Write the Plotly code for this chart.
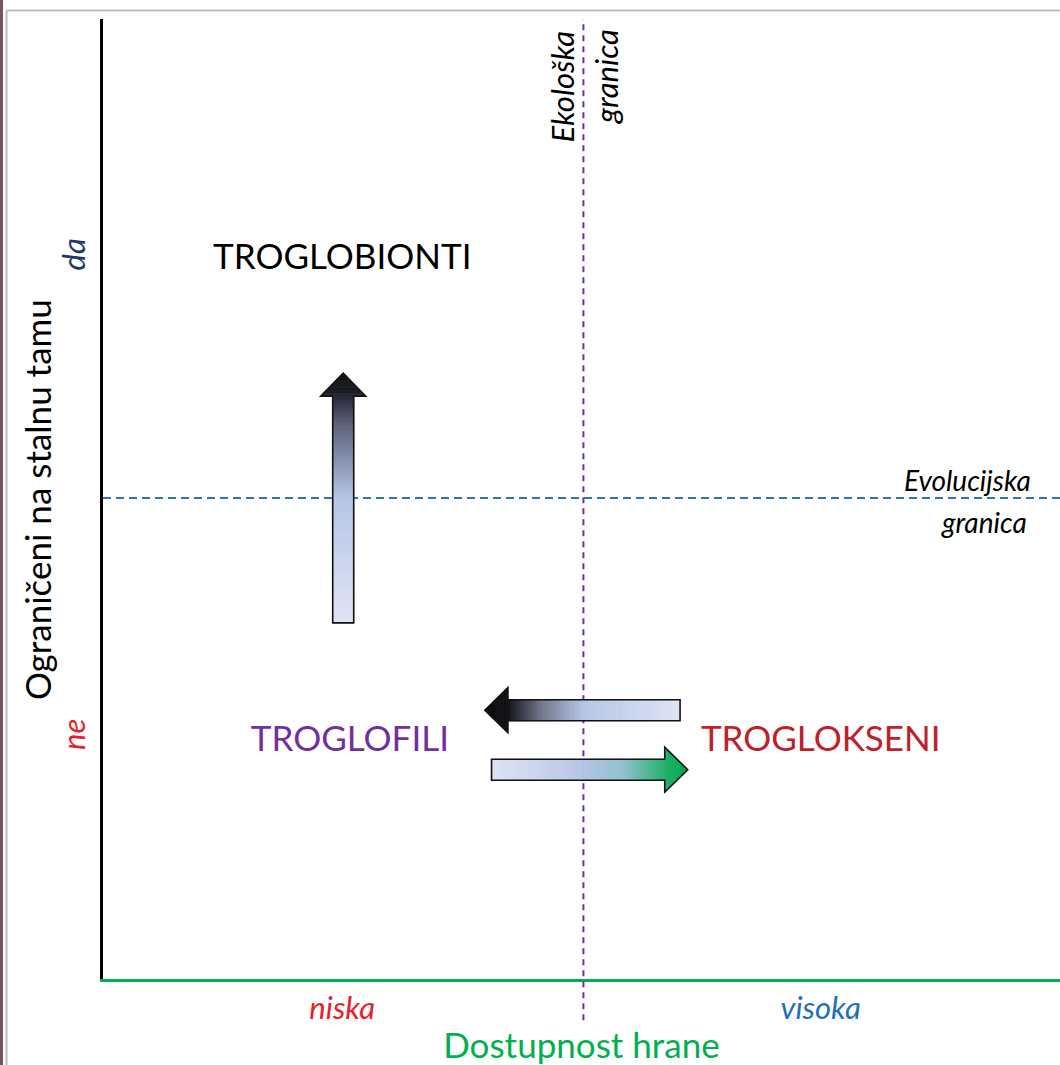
import plotly.graph_objects as go

# ---------------- data ----------------
group_names = ["TROGLOBIONTI", "TROGLOFILI", "TROGLOKSENI"]
group_x = [25.0, 25.8, 75.0]
group_y = [74.9, 24.7, 24.7]
group_colors = ["#000000", "#7030A0", "#C0202A"]

x_tick_vals = [25, 75]
x_tick_text = ["niska", "visoka"]
x_tick_colors = ["#E8202A", "#1F6FBA"]
y_tick_vals = [25, 75]
y_tick_text = ["ne", "da"]
y_tick_colors = ["#E8202A", "#203864"]

x_title = "Dostupnost hrane"
y_title = "Ograničeni na stalnu tamu"

eco_boundary_x = 50.2      # Ekološka granica
evo_boundary_y = 50.1      # Evolucijska granica

# arrows (start -> tip)
arrow_start_x = [25.1, 60.3, 40.6]
arrow_start_y = [37.1, 28.0, 21.8]
arrow_end_x = [25.1, 39.9, 61.1]
arrow_end_y = [63.1, 28.0, 21.8]
arrow_gradients = [
    [(0.0, "#DFE4F4"), (0.5, "#B4C6E7"), (0.8, "#5A607A"), (0.93, "#1C1C26"), (1.0, "#111111")],
    [(0.0, "#DFE4F4"), (0.5, "#B4C6E7"), (0.72, "#6E7388"), (0.88, "#141418"), (1.0, "#0A0A0A")],
    [(0.0, "#DFE4F4"), (0.45, "#B8C6E6"), (0.68, "#8EC0CC"), (0.9, "#1CB066"), (1.0, "#00AA50")],
]

# ---------------- layout geometry ----------------
W, H = 1060, 1065
ML, MR, MT, MB = 103, 0, 19, 86
PPX = (W - ML - MR) / 100.0
PPY = (H - MT - MB) / 100.0

SHAFT_HALF = 10.5   # px
HEAD_HALF = 22.5    # px
HEAD_LEN = 23.0     # px


def hex2rgb(h):
    h = h.lstrip("#")
    return tuple(int(h[i:i + 2], 16) for i in (0, 2, 4))


def grad_color(stops, t):
    for (t0, c0), (t1, c1) in zip(stops[:-1], stops[1:]):
        if t0 <= t <= t1:
            f = 0 if t1 == t0 else (t - t0) / (t1 - t0)
            a, b = hex2rgb(c0), hex2rgb(c1)
            return "rgb(%d,%d,%d)" % tuple(round(a[i] + (b[i] - a[i]) * f) for i in range(3))
    return stops[-1][1]


def arrow_shapes(x0, y0, x1, y1, stops):
    px0, py0, px1, py1 = x0 * PPX, y0 * PPY, x1 * PPX, y1 * PPY
    dx, dy = px1 - px0, py1 - py0
    L = (dx * dx + dy * dy) ** 0.5
    ux, uy = dx / L, dy / L
    nx, ny = -uy, ux
    base = L - HEAD_LEN

    def pt(s, w):
        return ((px0 + ux * s + nx * w) / PPX, (py0 + uy * s + ny * w) / PPY)

    def path(points):
        return "M " + " L ".join("%.4f,%.4f" % p for p in points) + " Z"

    shapes = []
    n_shaft, n_head = 70, 16
    segs = [(base * i / n_shaft, base * (i + 1) / n_shaft, "shaft") for i in range(n_shaft)]
    segs += [(base + HEAD_LEN * i / n_head, base + HEAD_LEN * (i + 1) / n_head, "head") for i in range(n_head)]
    for s0, s1, kind in segs:
        if kind == "shaft":
            w0 = w1 = SHAFT_HALF
        else:
            w0 = HEAD_HALF * (L - s0) / HEAD_LEN
            w1 = HEAD_HALF * (L - s1) / HEAD_LEN
        col = grad_color(stops, (s0 + s1) / 2 / L)
        pts = [pt(s0, -w0), pt(s1, -w1), pt(s1, w1), pt(s0, w0)]
        shapes.append(dict(type="path", xref="x", yref="y", path=path(pts),
                           fillcolor=col, line=dict(color=col, width=0.8), layer="above"))
    outline = [pt(0, -SHAFT_HALF), pt(base, -SHAFT_HALF), pt(base, -HEAD_HALF), pt(L, 0),
               pt(base, HEAD_HALF), pt(base, SHAFT_HALF), pt(0, SHAFT_HALF)]
    shapes.append(dict(type="path", xref="x", yref="y", path=path(outline),
                       fillcolor="rgba(0,0,0,0)", line=dict(color="#111111", width=1.6), layer="above"))
    return shapes


FONT = "Lato, 'Open Sans', sans-serif"

fig = go.Figure()

fig.add_trace(go.Scatter(
    x=group_x, y=group_y, mode="text", text=group_names,
    textfont=dict(family=FONT, size=35, color=group_colors),
    hoverinfo="skip", showlegend=False, cliponaxis=False,
))

shapes = []
shapes.append(dict(type="line", xref="x", yref="paper", x0=eco_boundary_x, x1=eco_boundary_x,
                   y0=-0.043, y1=1.0, line=dict(color="#7030A0", width=2, dash="6px,5px"), layer="above"))
shapes.append(dict(type="line", xref="x", yref="y", x0=0, x1=100,
                   y0=evo_boundary_y, y1=evo_boundary_y,
                   line=dict(color="#2E75B6", width=2, dash="8px,5px"), layer="above"))
for i in range(len(arrow_start_x)):
    shapes += arrow_shapes(arrow_start_x[i], arrow_start_y[i], arrow_end_x[i], arrow_end_y[i],
                           arrow_gradients[i])

# slide frame
fx = lambda p: (p - ML) / (W - ML - MR)
fy = lambda p: 1 - (p - MT) / (H - MT - MB)
shapes.append(dict(type="rect", xref="paper", yref="paper", x0=fx(0), x1=fx(3), y0=fy(H), y1=fy(0),
                   fillcolor="#7F5060", line=dict(width=0), layer="above"))
shapes.append(dict(type="line", xref="paper", yref="paper", x0=fx(6.5), x1=fx(6.5), y0=fy(H), y1=fy(10.5),
                   line=dict(color="#BDBDBD", width=2), layer="above"))
shapes.append(dict(type="line", xref="paper", yref="paper", x0=fx(6.5), x1=fx(W), y0=fy(10.5), y1=fy(10.5),
                   line=dict(color="#BDBDBD", width=2), layer="above"))

annotations = [
    dict(x=48.0, y=93.0, xref="x", yref="y", text="<i>Ekološka</i>", textangle=-90, showarrow=False,
         font=dict(family=FONT, size=31, color="#000000")),
    dict(x=52.5, y=94.0, xref="x", yref="y", text="<i>granica</i>", textangle=-90, showarrow=False,
         font=dict(family=FONT, size=31, color="#000000")),
    dict(x=97.2, y=52.0, xref="x", yref="y", text="<i>Evolucijska</i>", xanchor="right", showarrow=False,
         font=dict(family=FONT, size=28, color="#000000")),
    dict(x=96.8, y=47.6, xref="x", yref="y", text="<i>granica</i>", xanchor="right", showarrow=False,
         font=dict(family=FONT, size=28, color="#000000")),
    # y-axis title
    dict(x=fx(37), y=fy(500), xref="paper", yref="paper", text=y_title, textangle=-90, showarrow=False,
         xanchor="center", yanchor="middle", font=dict(family=FONT, size=35, color="#000000")),
]

fig.update_layout(
    width=W, height=H,
    margin=dict(l=ML, r=MR, t=MT, b=MB),
    paper_bgcolor="white", plot_bgcolor="white",
    shapes=shapes, annotations=annotations,
    xaxis=dict(range=[0, 100], showgrid=False, zeroline=False, showline=True,
               linecolor="#00B050", linewidth=3, ticks="",
               tickvals=x_tick_vals,
               ticktext=['<span style="color:%s"><i>%s</i></span>' % (c, t) for t, c in zip(x_tick_text, x_tick_colors)],
               tickfont=dict(family=FONT, size=31),
               title=dict(text=x_title, font=dict(family=FONT, size=35, color="#00B050"), standoff=10)),
    yaxis=dict(range=[0, 100], showgrid=False, zeroline=False, showline=True,
               linecolor="#000000", linewidth=3, ticks="",
               tickvals=y_tick_vals, tickangle=-90, ticklabelstandoff=3,
               ticktext=['<span style="color:%s"><i>%s</i></span>' % (c, t) for t, c in zip(y_tick_text, y_tick_colors)],
               tickfont=dict(family=FONT, size=31)),
)

fig.write_html("out.html", config={"displayModeBar": False},
               post_script="document.body.style.margin='0';document.body.style.overflow='hidden';")
